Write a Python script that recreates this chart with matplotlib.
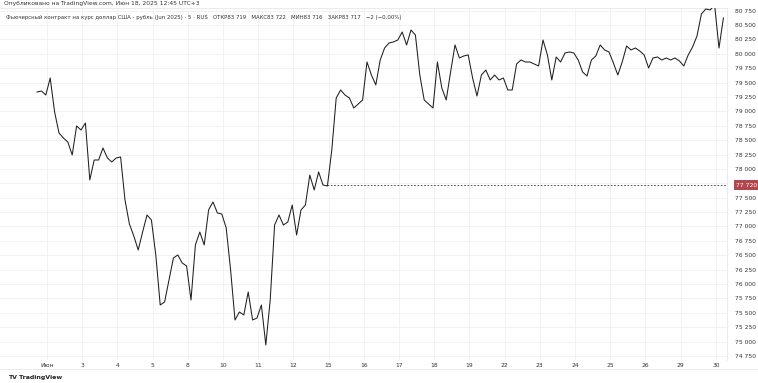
import numpy as np
import matplotlib
matplotlib.use("Agg")
import matplotlib.pyplot as plt
from matplotlib.transforms import blended_transform_factory

plt.rcParams['font.family'] = ['DejaVu Sans']

# closes, 8 samples per trading day
closes = [
    79336, 79354, 79284, 79579, 78989, 78624, 78537, 78468, 78242, 78746,
    78676, 78798, 77808, 78155, 78155, 78363, 78190, 78120, 78190, 78207,
    77460, 77043, 76835, 76592, 76904, 77200, 77113, 76505, 75636, 75689,
    76071, 76453, 76505, 76366, 76314, 75723, 76679, 76904, 76679, 77287,
    77426, 77234, 77217, 76974, 76244, 75376, 75515, 75463, 75862, 75376,
    75411, 75636, 74942, 75723, 77026, 77200, 77026, 77078, 77373, 76852,
    77287, 77373, 77894, 77634, 77947, 77721, 77703, 78329, 79232, 79371,
    79284, 79232, 79058, 79128, 79197, 79857, 79631, 79458, 79892, 80100,
    80187, 80205, 80239, 80378, 80153, 80413, 80326, 79631, 79197, 79128,
    79058, 79857, 79406, 79197, 79684, 80153, 79927, 79962, 79979, 79579,
    79267, 79631, 79718, 79545, 79631, 79545, 79579, 79371, 79371, 79823,
    79892, 79857, 79857, 79823, 79788, 80239, 79979, 79545, 79944, 79857,
    80014, 80031, 80014, 79892, 79684, 79614, 79892, 79962, 80153, 80066,
    80031, 79840, 79631, 79857, 80135, 80066, 80100, 80048, 79979, 79753,
    79927, 79944, 79892, 79927, 79892, 79927, 79875, 79788, 79979, 80118,
    80309, 80691, 80778, 80761, 80847, 80100, 80622,
]
day_labels = ["Июн", "3", "4", "5", "8", "10", "11", "12", "15", "16",
              "17", "18", "19", "22", "23", "24", "25", "26", "29", "30"]
price_ticks = list(range(74750, 80751, 250))
last_price = 77720
last_price_bar = 66

title_top = "Опубликовано на TradingView.com, Июн 18, 2025 12:45 UTC+3"
legend = ("Фьючерсный контракт на курс доллар США - рубль (Jun 2025) · 5 · RUS   "
          "ОТКР83 719   МАКС83 722   МИН83 716   ЗАКР83 717   −2 (−0,00%)")

W, H = 758, 383
fig = plt.figure(figsize=(W / 100, H / 100), dpi=100)
fig.patch.set_facecolor("white")

# chart pane in pixel terms
left, right, top, bottom = 0, 727, 8, 360
ax = fig.add_axes([left / W, 1 - bottom / H, (right - left) / W, (bottom - top) / H])

t = np.arange(len(closes)) / 8 - 0.284
ax.plot(t, closes, color="#1f1f1f", linewidth=0.75, zorder=3)

ax.set_xlim((0 - 47) / 35.2, (727 - 47) / 35.2)
ax.set_ylim(74681, 80795)

# grid
ax.set_xticks(range(len(day_labels)))
ax.set_yticks(price_ticks)
ax.grid(True, color="#eef0f4", linewidth=0.6, zorder=0)
ax.set_axisbelow(True)

ax.set_xticklabels(day_labels, fontsize=4.3, color="#333333")
ax.yaxis.tick_right()
ax.set_yticklabels([f"{v:,}".replace(",", " ") for v in price_ticks],
                   fontsize=4.3, color="#333333")
ax.tick_params(axis="both", length=0)
ax.tick_params(axis="x", pad=2)
ax.tick_params(axis="y", pad=6)

for s in ["left", "bottom"]:
    ax.spines[s].set_visible(False)
for s in ["top", "right"]:
    ax.spines[s].set_color("#e6e8ee")
    ax.spines[s].set_linewidth(0.6)

# last price line and tag
ax.hlines(last_price, t[last_price_bar], ax.get_xlim()[1], colors="#333333",
          linestyles=(0, (2, 2)), linewidth=0.6, zorder=2)
tr = blended_transform_factory(ax.transAxes, ax.transData)
ax.text(1.012, last_price, f"{last_price:,}".replace(",", " "), transform=tr,
        fontsize=4.3, color="white", va="center", ha="left", zorder=5,
        bbox=dict(boxstyle="square,pad=0.35", fc="#b2474f", ec="none"),
        clip_on=False)

# texts
fig.text(4 / W, 1 - 4 / H, title_top, fontsize=4.3, color="#333333",
         va="center", ha="left")
ax.text(6 / W, 1 - 9 / (bottom - top), legend, transform=ax.transAxes,
        fontsize=3.9, color="#333333", va="center", ha="left")
fig.text(8 / W, 1 - 377 / H, "TV TradingView", fontsize=4.5, color="#222222",
         va="center", ha="left", fontweight="bold")

# bottom border under time axis
fig.add_artist(plt.Line2D([0, 1], [1 - 369 / H, 1 - 369 / H],
                          color="#e6e8ee", linewidth=0.6))

fig.savefig("out.png", dpi=100, facecolor="white")
